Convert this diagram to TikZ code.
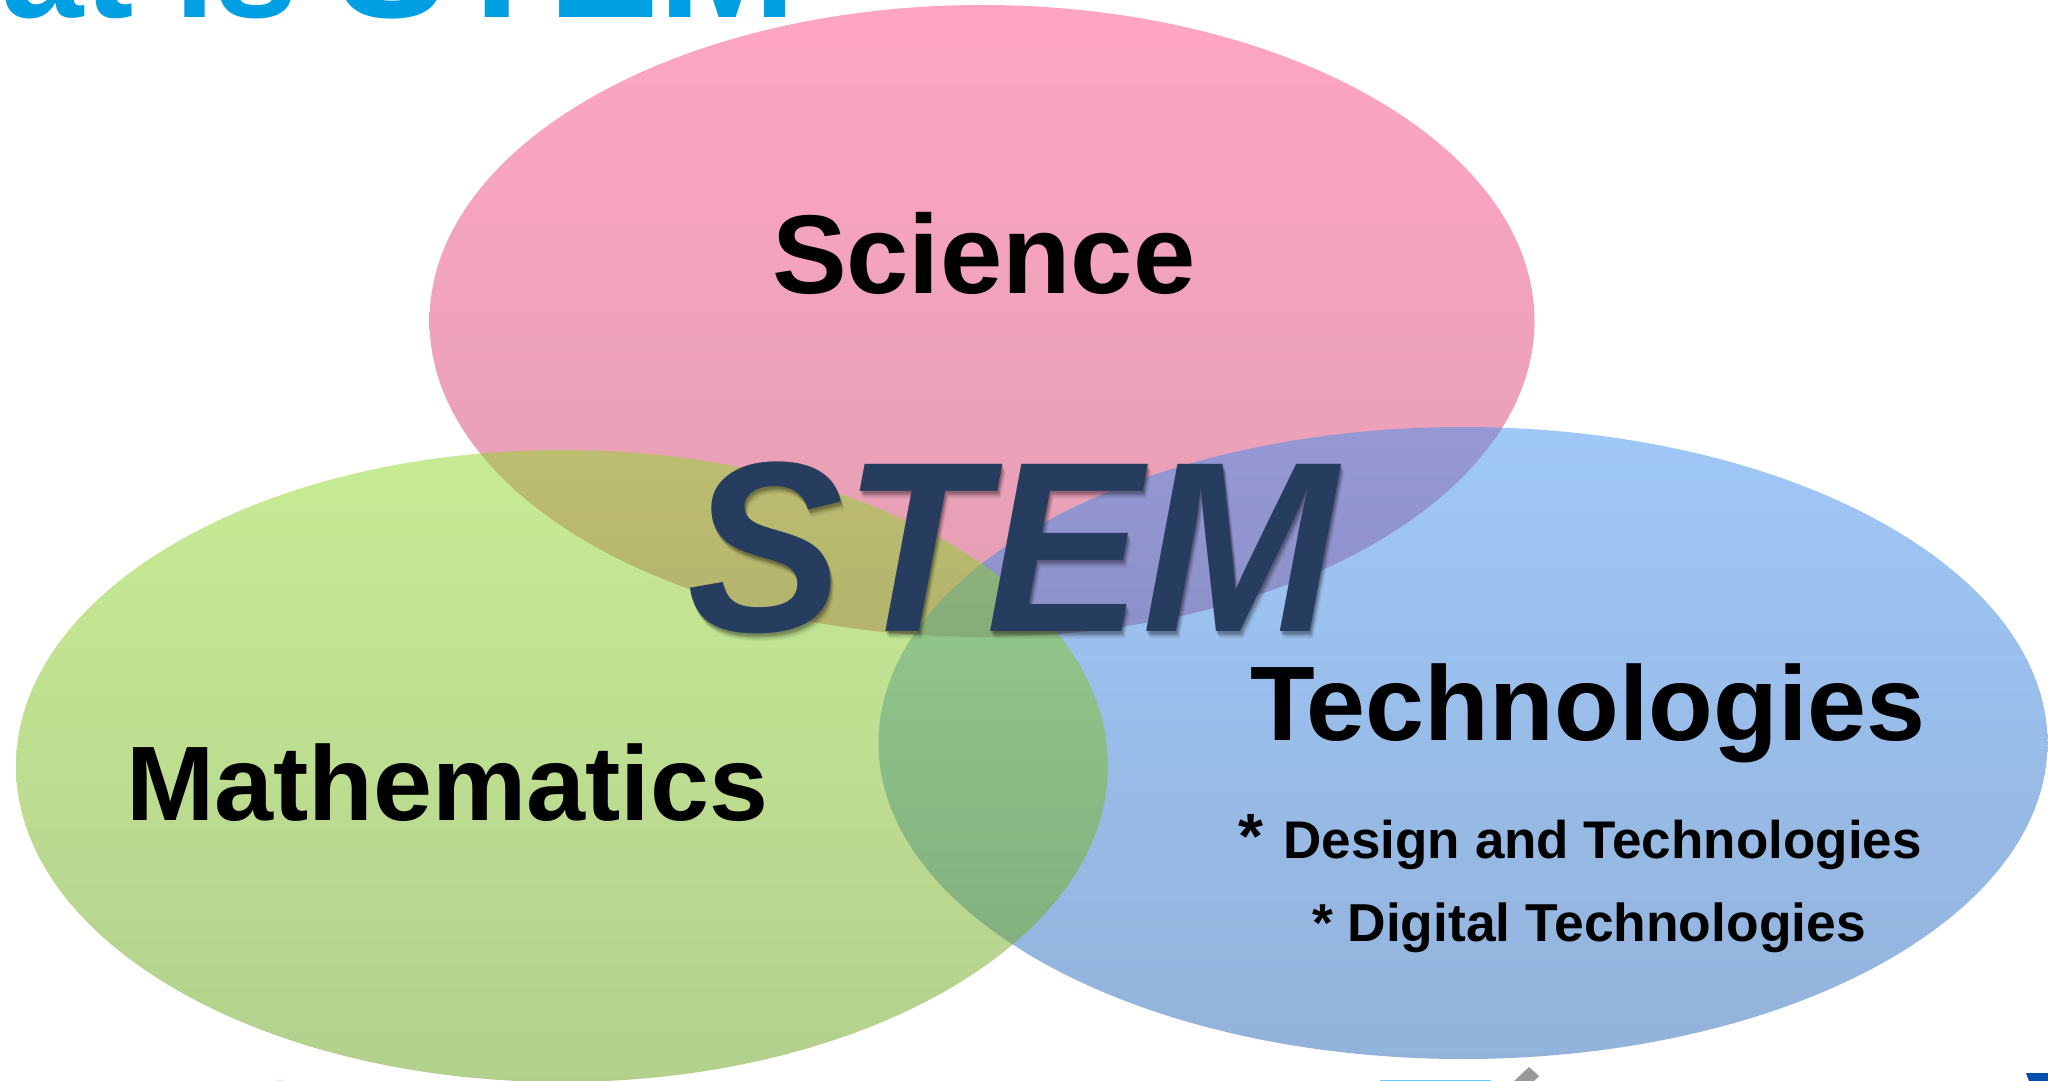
\documentclass[tikz,border=0pt]{standalone}
\usepackage{fontspec}
\setmainfont{Liberation Sans}
\usetikzlibrary{shapes.geometric}
\definecolor{titleblue}{HTML}{009FE3}
\definecolor{stemnavy}{HTML}{273D5F}
\definecolor{pinktop}{HTML}{FF4D89}
\definecolor{pinkbot}{HTML}{C74169}
\definecolor{bluetop}{HTML}{4191F1}
\definecolor{bluebot}{HTML}{2767B7}
\definecolor{greentop}{HTML}{91D92B}
\definecolor{greenbot}{HTML}{69A11D}
\definecolor{cornerblue}{HTML}{0050AF}
\definecolor{linecyan}{HTML}{66CCFF}
\tikzset{
  venn/.style={ellipse,inner sep=0pt,outer sep=0pt,fill opacity=.5,draw=none},
  bigword/.style={anchor=base west,inner sep=0pt,outer sep=0pt,font=\bfseries\fontsize{#1}{#1}\selectfont,text=black},
  stemword/.style={anchor=base west,inner sep=0pt,outer sep=0pt,font=\bfseries\itshape\fontsize{243}{243}\selectfont},
  titleword/.style={inner sep=0pt,outer sep=0pt,font=\bfseries\fontsize{#1}{#1}\selectfont,text=titleblue},
}
\begin{document}
\begin{tikzpicture}[x=1pt,y=-1pt]
\useasboundingbox (0,0) rectangle (2048,1081);
\clip (0,0) rectangle (2048,1081);
\fill[white] (0,0) rectangle (2048,1081);
% title, cut by the top edge
\node[titleword=148,anchor=base east] (title) at (298,18) {What is};
\node[titleword=166,anchor=base west] (titleb) at (336,18) {STEM};
% bottom edge fragments
\fill[black!7] (280,1082) ellipse (6 and 2.5);
\draw[linecyan,line width=1.2pt] (1380,1080.6) -- (1491,1080.6);
\fill[black!40] (1529,1067) -- (1539,1076) -- (1534,1081) -- (1514,1081) -- cycle;
\fill[cornerblue] (2026,1073) -- (2048,1073) -- (2048,1081) -- (2029,1081) -- cycle;
% circles
\node[venn,top color=pinktop,bottom color=pinkbot,minimum width=1105pt,minimum height=632pt] (science) at (982,321) {};
\node[venn,top color=bluetop,bottom color=bluebot,minimum width=1169pt,minimum height=632pt] (tech) at (1463,743) {};
\node[venn,top color=greentop,bottom color=greenbot,minimum width=1092pt,minimum height=632pt] (math) at (562,766) {};
% labels
\node[bigword=112] (lsci) at (772,293) {Science};
\node[bigword=106] (lmath) at (126,820) {Mathematics};
\node[bigword=106] (ltech) at (1250,740) {Technologies};
\node[bigword=53] (ldes) at (1238,858) {{\fontsize{64}{64}\selectfont *} \hspace{6pt}Design and Technologies};
\node[bigword=53.4] (ldig) at (1312,941) {* Digital Technologies};
% STEM with soft shadow
\foreach \d/\o in {10/.03,9/.04,8/.05,7/.05,6/.06,5/.07,4/.08,3/.08}
  \node[stemword,text=black,text opacity=\o] at (687+\d*.4,631+\d*.8) {\scalebox{.963}[1]{STEM}};
\node[stemword,text=stemnavy] (stem) at (687,631) {\scalebox{.963}[1]{STEM}};
\end{tikzpicture}
\end{document}
